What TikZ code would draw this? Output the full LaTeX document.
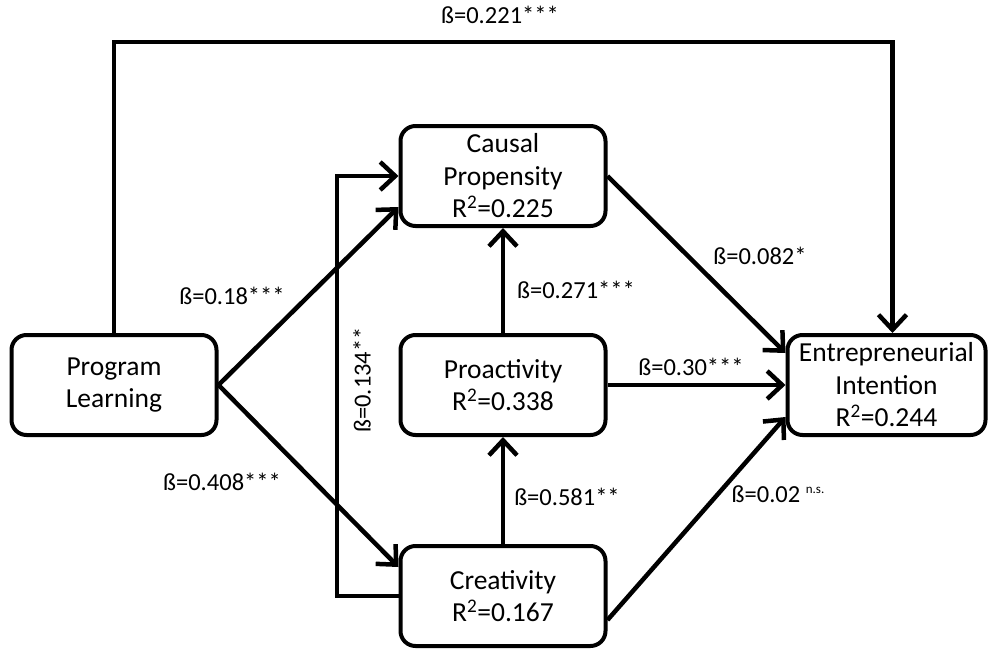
\documentclass[tikz,border=0pt]{standalone}
\usepackage{fontspec}
\setmainfont{Carlito}
\usetikzlibrary{arrows.meta}
\begin{document}
\begin{tikzpicture}[x=1pt,y=-1pt,
  box/.style={draw, line width=4pt, rounded corners=15pt, minimum width=205pt, minimum height=100pt, align=center, font=\fontsize{27.5}{32.5}\selectfont, inner sep=0pt},
  conn/.style={line width=4.5pt, -{Straight Barb[length=15pt,width=28pt]}},
  lbl/.style={font=\fontsize{24.5}{30}\selectfont, inner sep=0pt}]
\useasboundingbox (0,0) rectangle (988,648);

% nodes
\node[box] (PL) at (114,385) {Program\\Learning};
\node[box] (CP) at (503,176) {Causal\\Propensity\\R\textsuperscript{2}=0.225};
\node[box] (PR) at (503,385) {Proactivity\\R\textsuperscript{2}=0.338};
\node[box] (CR) at (503,596) {Creativity\\R\textsuperscript{2}=0.167};
\node[box, minimum width=198pt] (EI) at (886.5,385) {Entrepreneurial\\Intention\\R\textsuperscript{2}=0.244};

% helper coordinates
\coordinate (top) at (500,42);
\coordinate (xcol) at (337,0);

% connectors
\draw[conn] (PL.north) -- (PL.north |- top) -- ([xshift=6pt]EI.north |- top) -- ([xshift=6pt]EI.north);
\draw[conn] (PL.east) -- ([yshift=-31pt]CP.west);
\draw[conn] (PL.east) -- ([yshift=29pt]CR.west);
\draw[conn] (CR.west) -- (CR.west -| xcol) -- (CP.west -| xcol) -- (CP.west);
\draw[conn] (PR.north) -- (CP.south);
\draw[conn] (CR.north) -- (PR.south);
\draw[conn] (CP.east) -- ([yshift=32pt]EI.west);
\draw[conn] (PR.east) -- (EI.west);
\draw[conn] ([yshift=-24pt]CR.east) -- ([yshift=-32pt]EI.west);

% labels
\node[lbl] (l1) at (500,15) {ß=0.221***};
\node[lbl] (l2) at (232,296) {ß=0.18***};
\node[lbl] (l3) at (222,482) {ß=0.408***};
\node[lbl, rotate=90] (l4) at (362,380) {ß=0.134**};
\node[lbl] (l5) at (576,290) {ß=0.271***};
\node[lbl] (l6) at (760,256) {ß=0.082*};
\node[lbl] (l7) at (691,367) {ß=0.30***};
\node[lbl] (l8) at (567,497) {ß=0.581**};
\node[lbl] (l9) at (778,494) {ß=0.02 \raisebox{9pt}{\fontsize{13}{13}\selectfont n.s.}};
\end{tikzpicture}
\end{document}
